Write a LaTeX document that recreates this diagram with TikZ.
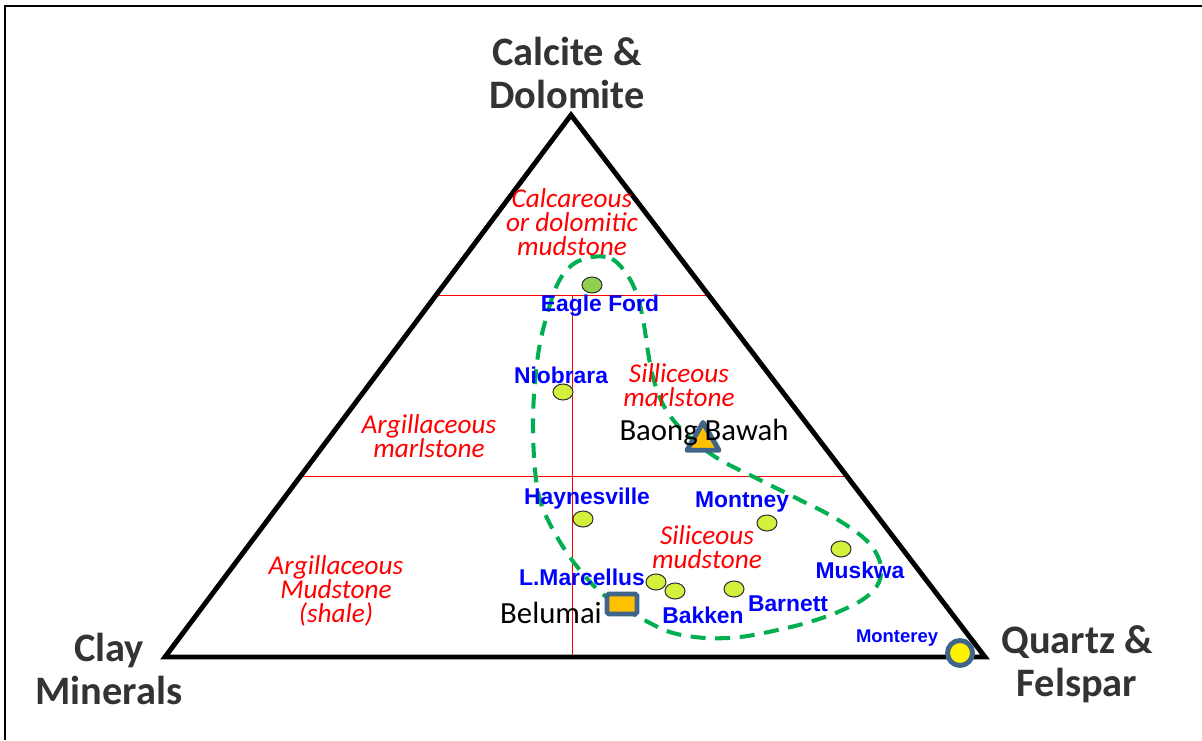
\documentclass[tikz,border=0pt]{standalone}
\usepackage{fontspec}
\setmainfont{Carlito}
\newfontfamily\arialfont{Liberation Sans}
\usetikzlibrary{positioning,calc,shapes.geometric}
\definecolor{zonegreen}{HTML}{00B050}
\definecolor{markblue}{HTML}{41648A}
\definecolor{markorange}{HTML}{FFC000}
\definecolor{limedot}{HTML}{D4F03C}
\definecolor{eaglegreen}{HTML}{92D050}
\definecolor{axisgray}{HTML}{333333}
\tikzset{
  ternary/.style = {line width=2.8pt, line join=miter},
  divide/.style  = {red, line width=0.8pt},
  zone/.style    = {zonegreen, line width=2.3pt, dash pattern=on 8.5pt off 5.5pt},
  dot/.style     = {ellipse, draw=black!80, line width=0.6pt, fill=limedot,
                    minimum width=0.4cm, minimum height=0.32cm, inner sep=0pt},
  play/.style    = {text=blue, font=\arialfont\bfseries\fontsize{13}{14}\selectfont, inner sep=0pt},
  facies/.style  = {text=red, align=center, inner sep=0pt,
                    font=\itshape\fontsize{15.5}{13.5}\selectfont},
  corner/.style  = {text=axisgray, align=center, inner sep=0pt,
                    font=\bfseries\fontsize{23}{24.5}\selectfont},
  site/.style    = {text=black, inner sep=0pt, font=\fontsize{17.5}{18}\selectfont}
}
\begin{document}
\begin{tikzpicture}[x=0.02cm, y=-0.02cm]
  \useasboundingbox (0,0) rectangle (1202,740);
  \draw[line width=1.2pt] (5,740) -- (5,6) -- (1202,6);

  % ternary frame
  \coordinate (T) at (571,115);
  \coordinate (L) at (165,657);
  \coordinate (R) at (985,657);
  \coordinate (a1) at ($(L)!2/3!(T)$);
  \coordinate (a2) at ($(R)!2/3!(T)$);
  \coordinate (b1) at ($(L)!1/3!(T)$);
  \coordinate (b2) at ($(R)!1/3!(T)$);
  \coordinate (m) at ($(a1)!.5!(a2)$);
  \draw[divide] (a1) -- (a2);
  \draw[divide] (b1) -- (b2);
  \draw[divide] (m) -- (m |- L);
  \draw[ternary] (T) -- (L) -- (R) -- cycle;

  % shale plays envelope
  \draw[zone] plot[smooth cycle, tension=0.6] coordinates {
    (592,257) (612,259) (628,276) (638,298) (644,325) (648,352) (654,381)
    (665,408) (685,433) (717,458) (760,480) (800,500) (835,518) (866,540)
    (880,562) (879,582) (865,598) (838,612) (806,623) (773,631) (740,637)
    (706,638) (673,633) (648,622) (622,607) (598,590) (572,560) (552,528)
    (540,500) (535,470) (533,430) (534,395) (538,355) (545,322) (557,285)
    (572,265)};

  % facies names
  \node[facies] (calc) at (572,222) {Calcareous\\or dolomitic\\mudstone};
  \node[facies] (smarl) at (679,385) {Silliceous\\marlstone};
  \node[facies] (amarl) at (429,436) {Argillaceous\\marlstone};
  \node[facies] (smud) at (707,547) {Siliceous\\mudstone};
  \node[facies] (amud) at (336,591) {Argillaceous\\Mudstone\\(shale)};

  % end members
  \node[corner] (carb) at (567,73) {Calcite \&\\Dolomite};
  \node[corner] (clay) at (109,669) {Clay\\Minerals};
  \node[corner] (qtz) at (1077,664) {Quartz \&\\Felspar};

  % plays
  \node[dot, fill=eaglegreen] (eagle) at (592,285) {};
  \node[dot] (niob) at (563,392) {};
  \node[dot] (hay) at (583,519) {};
  \node[dot] (mont) at (767,523) {};
  \node[dot] (musk) at (841,549) {};
  \node[dot] (marc) at (656,582) {};
  \node[dot] (bakk) at (675,591) {};
  \node[dot] (barn) at (734,589) {};
  \node[circle, draw=markblue, line width=2.8pt, fill=yellow,
        minimum size=0.5cm, inner sep=0pt] (mont2) at (960,653) {};
  \node[regular polygon, regular polygon sides=3, draw=markblue,
        line width=2.8pt, line join=round, fill=markorange,
        minimum size=0.74cm, inner sep=0pt] (baong) at (703,441) {};
  \node[rectangle, rounded corners=1pt, draw=markblue, line width=2.8pt,
        fill=markorange, minimum width=0.6cm, minimum height=0.4cm,
        inner sep=0pt] (belu) at (622,604) {};

  \node[play] (eaglet) at (600,306) {Eagle Ford};
  \node[play] (niobt) at (561,375) {Niobrara};
  \node[play] (hayt) at (587,499) {Haynesville};
  \node[play] (montt) at (742,502) {Montney};
  \node[play] (muskt) at (860,570) {Muskwa};
  \node[play] (marct) at (582,577) {L.Marcellus};
  \node[play] (bakkt) at (703,615) {Bakken};
  \node[play] (barnt) at (788,604) {Barnett};
  \node[play, font=\arialfont\bfseries\fontsize{10.5}{12}\selectfont] (mont2t) at (897,638) {Monterey};
  \node[site] (baongt) at (704,432) {Baong Bawah};
  \node[site] (belut) at (551,613) {Belumai};
\end{tikzpicture}
\end{document}
